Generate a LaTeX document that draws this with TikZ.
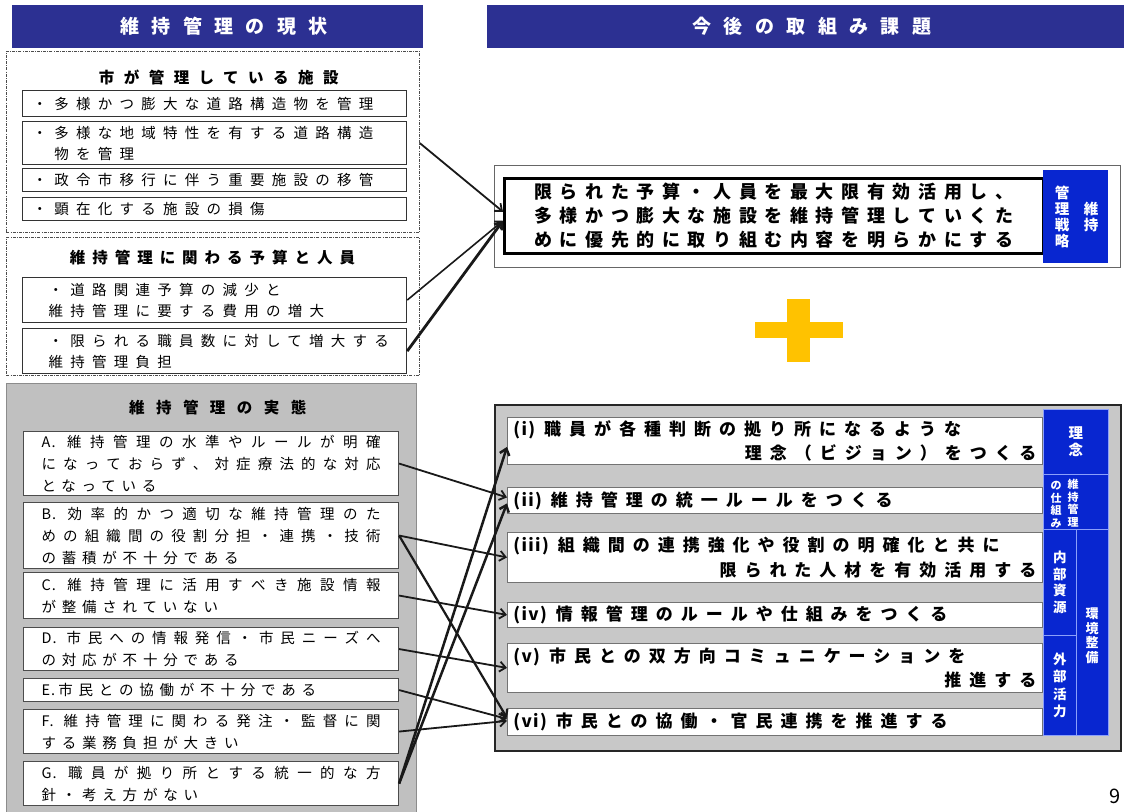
\documentclass[tikz,border=0pt]{standalone}
\usepackage{fontspec}
\setmainfont{Noto Sans CJK JP}
\usetikzlibrary{arrows.meta}
\definecolor{hdrblue}{RGB}{44,48,146}
\definecolor{colblue}{RGB}{8,38,208}
\definecolor{sepblue}{RGB}{140,160,250}
\definecolor{plusyellow}{RGB}{255,194,0}
\definecolor{panelA}{RGB}{192,192,192}
\definecolor{panelB}{RGB}{200,200,200}
\newcommand\lsp[1]{\addfontfeature{LetterSpace=#1}}
\makeatletter
\def\jst@end{\jst@end}
\newcommand\dist[1]{\jst@a#1\jst@end}
\def\jst@a#1{#1\jst@b}
\def\jst@b#1{\ifx#1\jst@end\else\hskip 0pt plus 1fil minus 1fil\relax#1\expandafter\jst@b\fi}
\makeatother
\newcommand\jl[1]{\leavevmode\hbox to \hsize{\dist{#1}}}
\newcommand\lab[1]{{\lsp{8}#1}\hspace{9pt}}
\newcommand\ltr[1]{{\lsp{8}#1}\hspace{3pt}}
\begin{document}
\begin{tikzpicture}[x=1pt,y=-1pt,
  hdr/.style={fill=hdrblue,text=white,anchor=north west,inner sep=0pt,font=\fontsize{19}{21}\selectfont\bfseries\lsp{65}},
  dbox/.style={draw=black!70,line width=0.8pt,dash pattern=on 3pt off 1.2pt on 0.8pt off 1.2pt,anchor=north west,inner sep=0pt},
  ttl/.style={inner sep=0pt,font=\fontsize{15.5}{17}\selectfont\bfseries\lsp{61}},
  fitem/.style={draw=black!80,line width=1.2pt,fill=white,anchor=north west,inner xsep=10pt,inner ysep=0pt,text width=364pt,minimum width=384pt,align=left,font=\fontsize{14.5}{21}\selectfont\lsp{50}},
  gitem/.style={draw=black!70,line width=1.1pt,fill=white,anchor=north west,inner xsep=18pt,inner ysep=0pt,text width=339pt,align=left,font=\fontsize{14.5}{22}\selectfont\lsp{40}},
  ritem/.style={draw=black!55,line width=0.8pt,fill=white,anchor=north west,inner xsep=6pt,inner ysep=0pt,text width=523pt,align=left,font=\fontsize{17}{24.5}\selectfont\bfseries\lsp{47}},
  bluebox/.style={fill=colblue,draw=sepblue,line width=0.8pt,anchor=north west,inner sep=0pt},
  vtext/.style={text=white,align=center,inner sep=0pt,font=\fontsize{13}{16}\selectfont\bfseries},
  conn/.style={draw=black!90,line width=1.8pt,-{Straight Barb[length=6pt,width=10pt]}},
]
\useasboundingbox (0,0) rectangle (1124,811);
\fill[white] (0,0) rectangle (1124,811);

% headers
\node[hdr,minimum width=411pt,minimum height=43pt] (hL) at (12,5) {\hspace{0.65em}維持管理の現状};
\node[hdr,minimum width=637pt,minimum height=43pt] (hR) at (487,5) {\hspace{0.65em}今後の取組み課題};

% facilities
\node[dbox,minimum width=413pt,minimum height=181pt] (d1) at (6,51) {};
\node[ttl] (t1) at (214,77) {\hspace{0.61em}市が管理している施設};
\node[fitem,minimum height=26pt] (f1) at (22,90) {・多様かつ膨大な道路構造物を管理};
\node[fitem,minimum height=43pt] (f2) at (22,121) {・多様な地域特性を有する道路構造\\　物を管理};
\node[fitem,minimum height=23pt] (f3) at (22,168) {・政令市移行に伴う重要施設の移管};
\node[fitem,minimum height=23pt] (f4) at (22,197) {・顕在化する施設の損傷};

% budget
\node[dbox,minimum width=413pt,minimum height=138pt] (d2) at (6,237) {};
\node[ttl,font=\fontsize{15.5}{17}\selectfont\bfseries\lsp{45}] (t2) at (209,258) {\hspace{0.45em}維持管理に関わる予算と人員};
\node[fitem,minimum height=45pt] (u1) at (22,277) {\hspace*{16pt}・道路関連予算の減少と\\\hspace*{16pt}維持管理に要する費用の増大};
\node[fitem,minimum height=45pt] (u2) at (22,328) {\hspace*{16pt}・限られる職員数に対して増大する\\\hspace*{16pt}維持管理負担};

% actual state
\node[draw=black!45,fill=panelA,line width=1pt,anchor=north west,minimum width=410pt,minimum height=440pt,inner sep=0pt] (g0) at (6,383) {};
\node[ttl,font=\fontsize{15.5}{17}\selectfont\bfseries\lsp{74}] (t3) at (212,408) {\hspace{0.74em}維持管理の実態};
\node[gitem,minimum height=64pt] (A) at (23,431) {\jl{{\ltr{A.}}維持管理の水準やルールが明確}\\\jl{になっておらず、対症療法的な対応}\\となっている};
\node[gitem,minimum height=66pt] (B) at (23,502) {\jl{{\ltr{B.}}効率的かつ適切な維持管理のた}\\\jl{めの組織間の役割分担・連携・技術}\\の蓄積が不十分である};
\node[gitem,minimum height=46pt] (C) at (23,572) {\jl{{\ltr{C.}}維持管理に活用すべき施設情報}\\が整備されていない};
\node[gitem,minimum height=43pt] (D) at (23,627) {\jl{{\ltr{D.}}市民への情報発信・市民ニーズへ}\\の対応が不十分である};
\node[gitem,minimum height=23pt] (E) at (23,678) {\ltr{E.}市民との協働が不十分である};
\node[gitem,minimum height=44pt] (F) at (23,709) {\jl{{\ltr{F.}}維持管理に関わる発注・監督に関}\\する業務負担が大きい};
\node[gitem,minimum height=44pt] (G) at (23,761) {\jl{{\ltr{G.}}職員が拠り所とする統一的な方}\\針・考え方がない};

% top right goal
\node[draw=black!60,line width=0.8pt,fill=white,anchor=north west,minimum width=626pt,minimum height=102pt,inner sep=0pt] (tw) at (494,165) {};
\node[draw=black,line width=2.5pt,fill=white,anchor=north west,inner xsep=30pt,inner ysep=0pt,text width=479pt,minimum height=75pt,align=left,font=\fontsize{18}{24}\selectfont\bfseries\lsp{30}] (goal) at (503,177) {\jl{限られた予算・人員を最大限有効活用し、}\\\jl{多様かつ膨大な施設を維持管理していくた}\\\jl{めに優先的に取り組む内容を明らかにする}};
\node[bluebox,draw=none,minimum width=65pt,minimum height=93pt] (tb) at (1043,170) {};
\node[vtext,font=\fontsize{14.5}{16}\selectfont\bfseries] (tb1) at (1091,217) {維\\持};
\node[vtext,font=\fontsize{14.5}{16}\selectfont\bfseries] (tb2) at (1062,217) {管\\理\\戦\\略};

% plus
\fill[plusyellow] (755,322) rectangle (843,338);
\fill[plusyellow] (787,299) rectangle (810,362);

% bottom right panel
\node[draw=black!85,fill=panelB,line width=1.8pt,anchor=north west,minimum width=626pt,minimum height=346pt,inner sep=0pt] (rp) at (494,404) {};
\node[ritem,minimum height=47pt] (r1) at (507,417) {\lab{(i)}職員が各種判断の拠り所になるような\\\mbox{}\hfill 理念（ビジョン）をつくる\hspace*{6pt}};
\node[ritem,minimum height=26pt] (r2) at (507,487) {\lab{(ii)}維持管理の統一ルールをつくる};
\node[ritem,minimum height=50pt] (r3) at (507,532) {\lab{(iii)}組織間の連携強化や役割の明確化と共に\\\mbox{}\hfill 限られた人材を有効活用する\hspace*{6pt}};
\node[ritem,minimum height=25pt] (r4) at (507,602) {\lab{(iv)}情報管理のルールや仕組みをつくる};
\node[ritem,minimum height=49pt] (r5) at (507,643) {\lab{(v)}市民との双方向コミュニケーションを\\\mbox{}\hfill 推進する\hspace*{6pt}};
\node[ritem,minimum height=27pt] (r6) at (507,708) {\lab{(vi)}市民との協働・官民連携を推進する};

% blue column
\node[bluebox,minimum width=65pt,minimum height=65pt] (k1) at (1043,409) {};
\node[bluebox,minimum width=65pt,minimum height=55pt] (k2) at (1043,474) {};
\node[bluebox,minimum width=33pt,minimum height=106pt] (k3) at (1043,529) {};
\node[bluebox,minimum width=33pt,minimum height=100pt] (k4) at (1043,635) {};
\node[bluebox,minimum width=32pt,minimum height=206pt] (k5) at (1076,529) {};
\node[vtext,font=\fontsize{14.5}{17}\selectfont\bfseries] (k1t) at (k1.center) {理\\念};
\node[vtext,font=\fontsize{11}{12.5}\selectfont\bfseries] (k2a) at (1073,503) {維\\持\\管\\理};
\node[vtext,font=\fontsize{11}{12.5}\selectfont\bfseries] (k2b) at (1056,505) {の\\仕\\組\\み};
\node[vtext,font=\fontsize{13.5}{16.5}\selectfont\bfseries] (k3t) at (k3.center) {内\\部\\資\\源};
\node[vtext,font=\fontsize{13.5}{17.5}\selectfont\bfseries] (k4t) at (k4.center) {外\\部\\活\\力};
\node[vtext,font=\fontsize{13}{14.5}\selectfont\bfseries] (k5t) at (1092,636) {環\\境\\整\\備};

% page number
\node[anchor=west,inner sep=0pt,font=\fontsize{20}{20}\selectfont] (pg) at (1109,796) {9};

% connectors
\draw[conn] (f2.east -| d1.east) -- ([yshift=4pt]goal.west);
\draw[conn,line width=1.6pt] (u1.east) -- ([yshift=-5pt]goal.west);
\draw[conn,line width=2.8pt] (u2.east) -- ([yshift=-5pt]goal.west);
\draw[conn] (A.east) -- ([yshift=3pt]r2.west);
\draw[conn] (B.east) -- (r3.west);
\draw[conn,line width=2.2pt] (B.east) -- ([yshift=4pt]r6.west);
\draw[conn] (C.east) -- (r4.west);
\draw[conn] (D.east) -- (r5.west);
\draw[conn] (E.east) -- ([yshift=3pt]r6.west);
\draw[conn] (F.east) -- ([yshift=1pt]r6.west);
\draw[conn,line width=2.5pt] (G.east) -- ([yshift=-6pt]r1.west);
\draw[conn,line width=2.5pt] (G.east) -- ([yshift=-3pt]r2.west);
\end{tikzpicture}
\end{document}
